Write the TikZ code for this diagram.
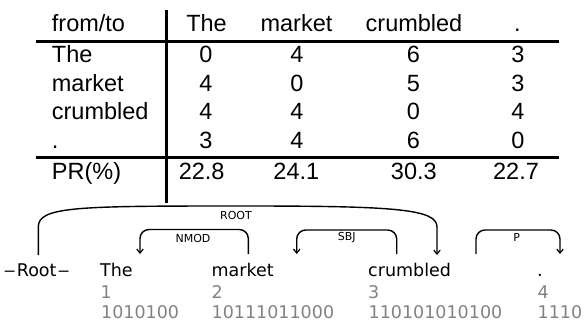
\documentclass[tikz,border=0pt]{standalone}
\usepackage{fontspec}
\setmainfont{Liberation Sans}
\newfontfamily\depfont{DejaVu Sans}
\usetikzlibrary{arrows.meta}
\definecolor{idgray}{RGB}{130,130,130}
\newcommand{\longdash}{\scalebox{1.4}[1]{–}}
\begin{document}
\begin{tikzpicture}[x=1pt,y=-1pt,
  tab/.style={inner sep=0pt, anchor=base, font=\fontsize{23.5}{28}\selectfont},
  rowlab/.style={tab, anchor=base west},
  rulew/.style={line width=3pt},
  word/.style={inner sep=0pt, anchor=base west, font=\depfont\fontsize{17.5}{20}\selectfont},
  idtxt/.style={word, text=idgray},
  arclab/.style={inner sep=0pt, font=\depfont\fontsize{11}{12}\selectfont},
  deparc/.style={line width=1.4pt, rounded corners=9pt, -{Straight Barb[length=4pt,width=6.5pt,line width=1.2pt]}},
]
\useasboundingbox (0,0) rectangle (585,322);
% table rules
\coordinate (vtop) at (166.5,10);
\coordinate (vbot) at (166.5,203);
\coordinate (r1l) at (36,41.5);
\coordinate (r1r) at (558.5,41.5);
\coordinate (r2l) at (36,157);
\coordinate (r2r) at (558.5,157);
\draw[rulew] (vtop) -- (vbot);
\draw[rulew] (r1l) -- (r1r);
\draw[rulew] (r2l) -- (r2r);
% header
\node[rowlab] (h0) at (51.7,31.7) {from/to};
\node[tab] (h1) at (206.5,31.7) {The};
\node[tab] (h2) at (296.5,31.7) {market};
\node[tab] (h3) at (414,31.7) {crumbled};
\node[tab] (h4) at (517.5,31.7) {.};
% rows
\node[rowlab] (l1) at (51.7,62.5) {The};
\node[rowlab] (l2) at (51.7,91) {market};
\node[rowlab] (l3) at (51.7,119.7) {crumbled};
\node[rowlab] (l4) at (51.7,148.5) {.};
\node[rowlab] (l5) at (51.7,179.5) {PR(\%)};
\foreach \r/\y/\a/\b/\c/\d in {1/62.5/0/4/6/3, 2/91/4/0/5/3, 3/119.7/4/4/0/4, 4/148.5/3/4/6/0}{
  \node[tab] (c\r a) at (206,\y) {\a};
  \node[tab] (c\r b) at (297,\y) {\b};
  \node[tab] (c\r c) at (413.5,\y) {\c};
  \node[tab] (c\r d) at (518,\y) {\d};
}
\node[tab] (p1) at (201.7,179.5) {22.8};
\node[tab] (p2) at (296.3,179.5) {24.1};
\node[tab] (p3) at (413.8,179.5) {30.3};
\node[tab] (p4) at (516,179.5) {22.7};
% words
\node[inner sep=0pt, anchor=base, font=\depfont\fontsize{17.5}{20}\selectfont] (w0) at (36.7,276) {\longdash\kern1pt Root\kern1pt\longdash};
\node[word] (w1) at (100,276) {The};
\node[word] (w2) at (211.5,276) {market};
\node[word] (w3) at (368,276) {crumbled};
\node[word] (w4) at (537,276) {.};
\node[idtxt] (n1) at (100.5,298.3) {1};
\node[idtxt] (n2) at (211.5,298.3) {2};
\node[idtxt] (n3) at (368,298.3) {3};
\node[idtxt] (n4) at (537.5,298.3) {4};
\node[idtxt] (b1) at (101,318.3) {1010100};
\node[idtxt] (b2) at (211.5,318.3) {10111011000};
\node[idtxt] (b3) at (368.5,318.3) {110101010100};
\node[idtxt] (b4) at (537.5,318.3) {1110};
% arcs
\coordinate (rootS) at (38.3,255);
\coordinate (rootE) at (437,255);
\draw[deparc] (rootS) -- (38.3,236) .. controls (38.3,207) and (75,206) .. (237,206)
  .. controls (395,206) and (437,209) .. (437,236) -- (rootE);
\node[arclab] (lroot) at (236,215) {ROOT};
\coordinate (nmodS) at (248.3,254);
\coordinate (nmodE) at (140,254);
\coordinate (nmodT) at (194,229.5);
\draw[deparc] (nmodS) |- (nmodT) -| (nmodE);
\node[arclab] (lnmod) at (193,238.5) {NMOD};
\coordinate (sbjS) at (396.7,254);
\coordinate (sbjE) at (296.7,254);
\coordinate (sbjT) at (346,230);
\draw[deparc] (sbjS) |- (sbjT) -| (sbjE);
\node[arclab] (lsbj) at (346.7,237.5) {SBJ};
\coordinate (pS) at (476,254);
\coordinate (pE) at (560,254);
\coordinate (pT) at (518,230);
\draw[deparc] (pS) |- (pT) -| (pE);
\node[arclab] (lp) at (516.7,237.5) {P};
\end{tikzpicture}
\end{document}
